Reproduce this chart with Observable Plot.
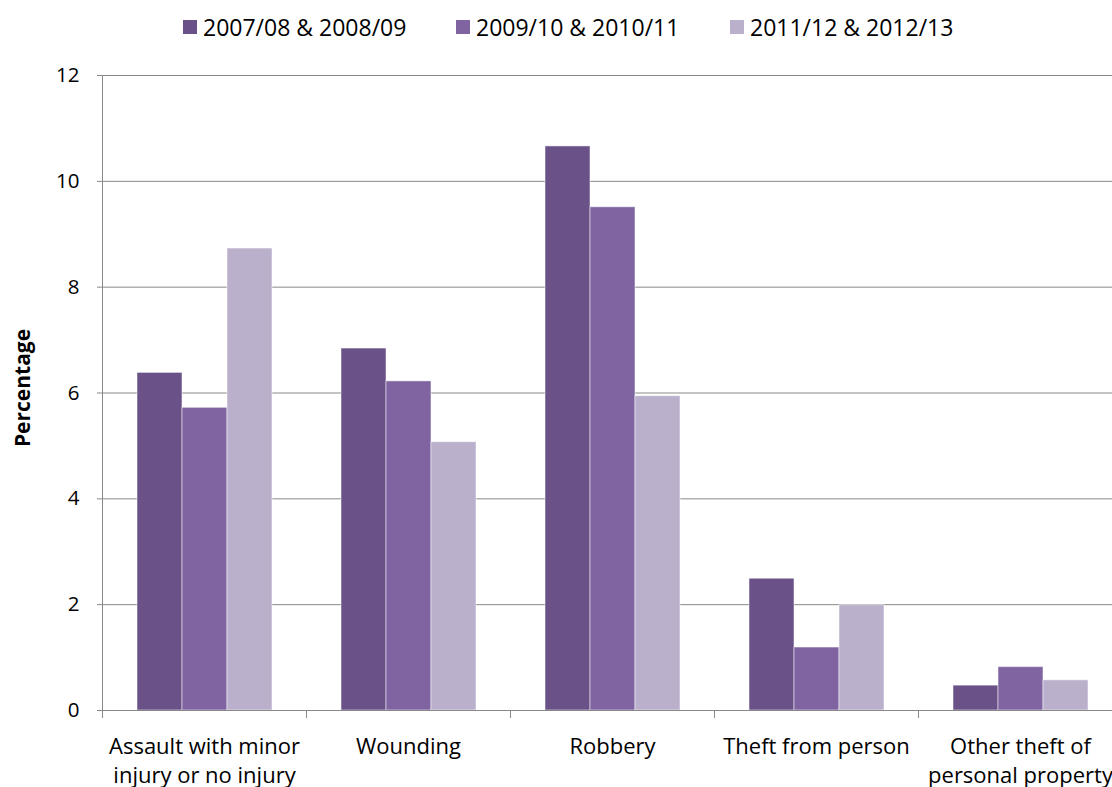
<!DOCTYPE html>
<html>
<head>
<meta charset="utf-8">
<script src="https://cdn.jsdelivr.net/npm/d3@7"></script>
<script src="https://cdn.jsdelivr.net/npm/@observablehq/plot@0.6"></script>
<style>
  html, body { margin: 0; padding: 0; background: #fff; overflow: hidden; width: 1112px; height: 787px; }
  #legend { height: 50px; position: relative; font-family: "Open Sans", sans-serif; font-size: 23px; color: #000; }
  .item { position: absolute; top: 8px; display: flex; align-items: center; height: 38px; }
  .sw { width: 14px; height: 14px; margin-right: 6px; }
  #chart { width: 1112px; height: 737px; overflow: hidden; }
  #chart svg { display: block; }
  #chart svg .ytick text { font-size: 20.5px; }
</style>
</head>
<body>
<div id="legend"></div>
<div id="chart"></div>
<script>
const categories = ["Assault with minor injury or no injury", "Wounding", "Robbery", "Theft from person", "Other theft of personal property"];
const categoryLabels = ["Assault with minor\ninjury or no injury", "Wounding", "Robbery", "Theft from person", "Other theft of\npersonal property"];
const series = ["2007/08 & 2008/09", "2009/10 & 2010/11", "2011/12 & 2012/13"];
const values0708 = [6.38, 6.84, 10.66, 2.49, 0.47];
const values0910 = [5.72, 6.22, 9.51, 1.19, 0.82];
const values1112 = [8.73, 5.07, 5.94, 1.99, 0.57];
const colors = ["#6a5289", "#8064a2", "#bab0cb"];
const yTicks = [0, 2, 4, 6, 8, 10, 12];
const legendLeft = [183, 456, 730];

const seriesValues = [values0708, values0910, values1112];
const data = [];
categories.forEach((c, i) => {
  series.forEach((s, j) => data.push({category: c, series: s, value: seriesValues[j][i]}));
});

// legend
const legend = document.getElementById("legend");
series.forEach((s, j) => {
  const it = document.createElement("div");
  it.className = "item";
  it.style.left = legendLeft[j] + "px";
  const sw = document.createElement("div");
  sw.className = "sw";
  sw.style.background = colors[j];
  const tx = document.createElement("span");
  tx.textContent = s;
  it.appendChild(sw); it.appendChild(tx);
  legend.appendChild(it);
});

const labelOf = new Map(categories.map((c, i) => [c, categoryLabels[i]]));
const gray = "#898989";

const chart = Plot.plot({
  width: 1130,
  height: 737,
  marginTop: 25,
  marginBottom: 77,
  marginLeft: 101,
  marginRight: 8,
  style: {fontFamily: "Open Sans, sans-serif", fontSize: "20px", color: "#000", background: "#fff", maxWidth: "none"},
  fx: {domain: categories, padding: 0, label: null},
  x: {domain: series, paddingInner: 0, paddingOuter: 0.75, axis: null},
  y: {domain: [0, 12], label: null},
  color: {domain: series, range: colors},
  marks: [
    Plot.gridY(yTicks, {stroke: gray, strokeOpacity: 1}),
    Plot.barY(data, {fx: "category", x: "series", y: "value", fill: "series", stroke: "#fff", strokeOpacity: 0.5, strokeWidth: 1}),
    Plot.ruleY([0], {stroke: gray}),
    Plot.axisY(yTicks, {tickSize: 5, tickPadding: 18, fontSize: 20.5, stroke: gray, label: null, tickFormat: d3.format("d"), className: "ytick"}),
    Plot.axisFx({anchor: "bottom", tickSize: 0, tickPadding: 23, fontSize: 22, lineHeight: 1.32, label: null, tickFormat: d => labelOf.get(d)}),
    Plot.text(["Percentage"], {frameAnchor: "left", textAnchor: "middle", dx: -79, dy: -5, rotate: -90, fontSize: 21, fontWeight: "bold", facetAnchor: "left", fill: "#000"})
  ]
});
document.getElementById("chart").appendChild(chart);

// category boundary ticks and vertical axis line, positioned through Plot's scales
const fx = chart.scale("fx");
const y = chart.scale("y");
const svg = d3.select(chart);
const y0 = y.apply(0);
const g = svg.append("g").attr("stroke", gray).attr("stroke-width", 1);
const edges = categories.map(c => fx.apply(c));
edges.push(fx.apply(categories[categories.length - 1]) + fx.bandwidth);
edges.forEach(x => {
  g.append("line").attr("x1", x + 0.5).attr("x2", x + 0.5).attr("y1", y0).attr("y2", y0 + 8);
});
g.append("line").attr("x1", edges[0] + 0.5).attr("x2", edges[0] + 0.5).attr("y1", y.apply(12)).attr("y2", y0);
</script>
</body>
</html>
